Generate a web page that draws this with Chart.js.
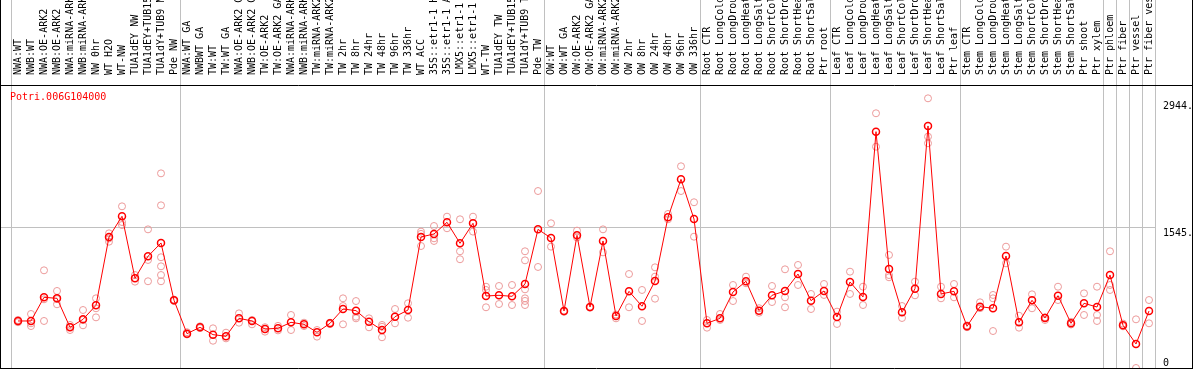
<!DOCTYPE html>
<html>
<head>
<meta charset="utf-8">
<title>Potri.006G104000</title>
<script src="https://cdn.jsdelivr.net/npm/chart.js@4"></script>
<style>
  html, body { margin: 0; padding: 0; background: #fff; }
  canvas { display: block; }
</style>
</head>
<body>
<canvas id="myChart" width="1194" height="370"></canvas>
<script>
var geneName = 'Potri.006G104000';

// sample names along the top (as shown)
var categories = [
  'NWA:WT', 'NWB:WT', 'NWA:OE-ARK2', 'NWB:OE-ARK2', 'NWA:miRNA-ARK2', 'NWB:miRNA-ARK2',
  'NW 0hr', 'WT H2O', 'WT-NW', 'TUA1dEY NW', 'TUA1dEY+TUB15', 'TUA1dY+TUB9 NW', 'Pde NW',
  'NWA:WT GA', 'NWBWT GA', 'TW:WT', 'TW:WT GA', 'NWA:OE-ARK2 GA', 'NWB:OE-ARK2 GA',
  'TW:OE-ARK2', 'TW:OE-ARK2 GA', 'NWA:miRNA-ARK2', 'NWB:miRNA-ARK2', 'TW:miRNA-ARK2',
  'TW:miRNA-ARK2', 'TW 2hr', 'TW 8hr', 'TW 24hr', 'TW 48hr', 'TW 96hr', 'TW 336hr',
  'WT ACC', '35S::etr1-1 H2', '35S::etr1-1 AC', 'LMX5::etr1-1 H', 'LMX5::etr1-1 A',
  'WT-TW', 'TUA1dEY TW', 'TUA1dEY+TUB15', 'TUA1dY+TUB9 TW', 'Pde TW',
  'OW:WT', 'OW:WT GA', 'OW:OE-ARK2', 'OW:OE-ARK2 GA', 'OW:miRNA-ARK2', 'OW:miRNA-ARK2',
  'OW 2hr', 'OW 8hr', 'OW 24hr', 'OW 48hr', 'OW 96hr', 'OW 336hr',
  'Root CTR', 'Root LongCold', 'Root LongDroug', 'Root LongHeat', 'Root LongSalt',
  'Root ShortCold', 'Root ShortDrou', 'Root ShortHeat', 'Root ShortSalt', 'Ptr root',
  'Leaf CTR', 'Leaf LongCold', 'Leaf LongDroug', 'Leaf LongHeat', 'Leaf LongSalt',
  'Leaf ShortCold', 'Leaf ShortDrou', 'Leaf ShortHeat', 'Leaf ShortSalt', 'Ptr leaf',
  'Stem CTR', 'Stem LongCold', 'Stem LongDroug', 'Stem LongHeat', 'Stem LongSalt',
  'Stem ShortCold', 'Stem ShortDrou', 'Stem ShortHeat', 'Stem ShortSalt', 'Ptr shoot',
  'Ptr xylem', 'Ptr phloem', 'Ptr fiber', 'Ptr vessel', 'Ptr fiber vess'
];

// mean expression per sample
var meanValues = [
  519, 519, 780, 769, 449, 537, 692, 1446, 1674, 990, 1233, 1380, 747,
  379, 449, 368, 350, 548, 519, 430, 438, 504, 482, 394, 493, 651, 633, 511, 419, 566, 640,
  1446, 1479, 1608, 1376, 1597, 795, 802, 791, 927, 1530,
  1435, 629, 1464, 673, 1402, 574, 846, 681, 960, 1663, 2082, 1644,
  493, 548, 839, 957, 633, 802, 850, 1037, 743, 850,
  563, 949, 784, 2608, 1093, 615, 875, 2671, 817, 846,
  460, 677, 659, 1236, 504, 747, 552, 798, 493, 714, 673,
  1026, 471, 265, 629
];

// individual replicates per sample
var replicateValues = [
  [519, 505, 530], [596, 493, 463], [1078, 758, 519], [850, 703, 760], [475, 419, 455],
  [640, 471, 530], [769, 659, 559], [1486, 1394, 1430], [1784, 1611, 1578], [1026, 953],
  [1530, 1192, 957], [2148, 1795, 1222, 1122, 1026, 957], [755, 740],
  [395, 370], [460, 440], [438, 301], [390, 327], [603, 500], [530, 482], [450, 401],
  [465, 415], [585, 419], [463, 500], [419, 346], [500, 485], [769, 684, 482],
  [739, 566, 548], [548, 449], [475, 455, 339], [651, 493], [714, 555],
  [1505, 1346, 1480], [1567, 1431, 1402], [1670, 1542], [1641, 1288, 1200], [1670, 1505],
  [897, 861, 670], [905, 706], [916, 695], [1288, 1188, 868, 769, 740, 695], [1953, 1115],
  [1597, 1339], [629, 620], [1516, 1440], [673, 665], [1530, 1276], [548, 590],
  [1037, 670], [861, 519], [1111, 1008, 765], [1700, 1641], [2226, 1953], [1829, 1449],
  [530, 445], [596, 530], [916, 739], [1008, 935], [660, 610], [905, 728],
  [1089, 780, 670], [1137, 916], [817, 651], [927, 806],
  [622, 486], [1063, 817], [897, 695], [2811, 2442], [1247, 1026, 1001], [684, 552],
  [953, 802], [2976, 2553, 2480], [897, 769], [927, 780],
  [470, 450], [725, 660], [806, 769, 408], [1339, 1155], [577, 445], [813, 659],
  [560, 530], [897, 750], [510, 480], [824, 585], [897, 585, 519],
  [1288, 916, 861], [490, 460], [537, 0], [750, 493]
];

var yTickValues = [0, 1545, 2944];
var yTickLabels = ['0', '1545.', '2944.'];
var yMax = 3123;

// group separators sit between samples
var groupBreaks = [-0.5, 12.5, 40.5, 52.5, 62.5, 72.5, 83.5, 84.5, 85.5, 86.5, 87.5];

var monoFont = { family: 'DejaVu Sans Mono', size: 10 };
var xMin = -18 / 13;
var xMax = 1138 / 13;

var meanPoints = meanValues.map(function (v, i) { return { x: i, y: v }; });
var repPoints = [];
replicateValues.forEach(function (reps, i) {
  reps.forEach(function (v) { repPoints.push({ x: i, y: v }); });
});

function labelOf(v) {
  return yTickLabels[yTickValues.indexOf(v)];
}

// black outer frame + gene name
var framePlugin = {
  id: 'frame',
  afterDraw: function (chart) {
    var c = chart.ctx, a = chart.chartArea, w = chart.width;
    c.save();
    c.strokeStyle = '#000';
    c.lineWidth = 1;
    c.beginPath();
    c.moveTo(0.5, 0); c.lineTo(0.5, a.bottom + 1);
    c.moveTo(w - 1.5, 0); c.lineTo(w - 1.5, a.bottom + 1);
    c.moveTo(0, a.top + 0.5); c.lineTo(w - 1, a.top + 0.5);
    c.moveTo(0, a.bottom + 0.5); c.lineTo(w - 1, a.bottom + 0.5);
    c.stroke();
    c.fillStyle = '#ff0000';
    c.font = '10px "DejaVu Sans Mono"';
    c.textBaseline = 'alphabetic';
    c.fillText(geneName, 10, a.top + 15);
    c.restore();
  }
};

var ctx = document.getElementById('myChart').getContext('2d');
var myChart = new Chart(ctx, {
  type: 'line',
  data: {
    datasets: [{
      label: geneName,
      data: meanPoints,
      borderColor: '#ff0000',
      borderWidth: 1,
      tension: 0,
      pointRadius: 3.5,
      pointBorderWidth: 1.5,
      pointBorderColor: '#ff0000',
      pointBackgroundColor: 'rgba(255,255,255,0)',
      xAxisID: 'x',
      yAxisID: 'y'
    }, {
      type: 'scatter',
      label: 'replicates',
      data: repPoints,
      showLine: false,
      pointRadius: 3.5,
      pointBorderWidth: 1,
      pointBorderColor: '#ec9a9a',
      pointBackgroundColor: 'rgba(255,255,255,0)',
      xAxisID: 'x',
      yAxisID: 'y'
    }]
  },
  options: {
    responsive: false,
    animation: false,
    events: [],
    layout: { autoPadding: false, padding: { top: 0, left: 0, right: 0, bottom: 2 } },
    plugins: {
      legend: { display: false },
      tooltip: { enabled: false }
    },
    scales: {
      x: {
        type: 'linear',
        position: 'top',
        min: xMin,
        max: xMax,
        weight: 2,
        grid: { display: false },
        border: { display: false },
        afterBuildTicks: function (axis) {
          axis.ticks = categories.map(function (c, i) { return { value: i }; });
        },
        afterFit: function (axis) {
          axis.height = 85;
          axis.paddingLeft = 0;
          axis.paddingRight = 0;
        },
        ticks: {
          autoSkip: false,
          minRotation: 90,
          maxRotation: 90,
          padding: 2,
          labelOffset: 12,
          color: '#000',
          font: monoFont,
          callback: function (v) { return categories[v]; }
        }
      },
      xs: {
        type: 'linear',
        position: 'top',
        min: xMin,
        max: xMax,
        weight: 1,
        afterBuildTicks: function (axis) {
          axis.ticks = groupBreaks.map(function (v) { return { value: v }; });
        },
        afterFit: function (axis) {
          axis.height = 0;
          axis.paddingLeft = 0;
          axis.paddingRight = 0;
        },
        grid: { color: '#c0c0c0', lineWidth: 1, drawTicks: true, tickLength: 85 },
        border: { display: false },
        ticks: { display: false }
      },
      y: {
        type: 'linear',
        position: 'right',
        min: 0,
        max: yMax,
        weight: 1,
        afterBuildTicks: function (axis) {
          axis.ticks = [{ value: 1545 }, { value: 2944 }];
        },
        afterFit: function (axis) {
          axis.width = 38;
          axis.paddingTop = 0;
          axis.paddingBottom = 0;
        },
        grid: {
          drawTicks: false,
          color: function (c) { return c.tick && c.tick.value === 1545 ? '#c0c0c0' : 'rgba(0,0,0,0)'; }
        },
        border: { display: false },
        ticks: { align: 'start', padding: 7, color: '#000', font: monoFont, callback: labelOf }
      },
      y0: {
        type: 'linear',
        position: 'right',
        min: 0,
        max: yMax,
        weight: 0,
        afterBuildTicks: function (axis) {
          axis.ticks = [{ value: 0 }];
        },
        afterFit: function (axis) {
          axis.width = 0;
          axis.paddingTop = 0;
          axis.paddingBottom = 0;
        },
        grid: { display: false, drawTicks: false },
        border: { display: false },
        ticks: { align: 'end', mirror: true, crossAlign: 'far', padding: 13, color: '#000', font: monoFont, callback: labelOf }
      }
    }
  },
  plugins: [framePlugin]
});
</script>
</body>
</html>
